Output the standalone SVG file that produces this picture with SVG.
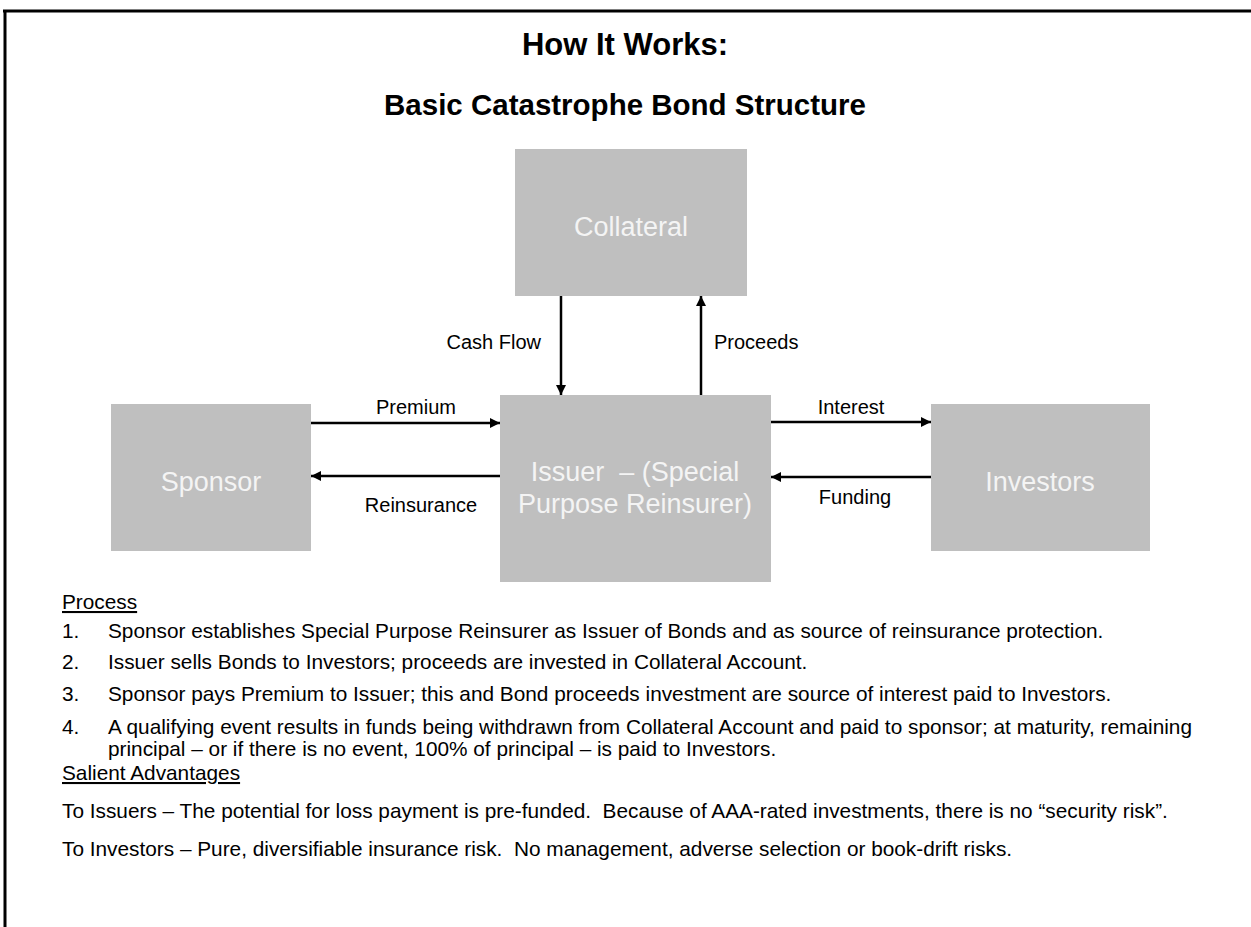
<svg xmlns="http://www.w3.org/2000/svg" width="1251" height="927" viewBox="0 0 1251 927">
<style>
.title{font-family:"Liberation Sans",Arial,sans-serif;font-weight:bold;fill:#000;text-anchor:middle}
.box{fill:#bfbfbf}
.btxt{font-family:"Liberation Sans",Arial,sans-serif;font-size:27px;fill:#f4f4f4;text-anchor:middle}
.lbl{font-family:"Liberation Sans",Arial,sans-serif;font-size:20px;fill:#000}
.body{font-family:"Liberation Sans",Arial,sans-serif;font-size:20.8px;fill:#000}
.conn{stroke:#000;stroke-width:2.5;fill:none;marker-end:url(#ah)}
</style>
<defs>
<marker id="ah" viewBox="0 0 10 10" refX="10" refY="5" markerWidth="4" markerHeight="4" orient="auto" markerUnits="strokeWidth">
<path d="M0,0 L10,5 L0,10 z" fill="#000"/>
</marker>
</defs>
<rect x="0" y="0" width="1251" height="927" fill="#fff"/>
<g id="frame">
<line x1="3" y1="11" x2="1251" y2="11" stroke="#000" stroke-width="3"/>
<line x1="5" y1="10" x2="5" y2="927" stroke="#000" stroke-width="3"/>
</g>
<g id="title">
<text class="title" x="625" y="55" font-size="31">How It Works:</text>
<text class="title" x="625" y="115" font-size="29.5">Basic Catastrophe Bond Structure</text>
</g>
<g id="collateral">
<rect class="box" x="515" y="149" width="232" height="147"/>
<text class="btxt" x="631" y="236">Collateral</text>
</g>
<g id="issuer">
<rect class="box" x="500" y="395" width="271" height="187"/>
<text class="btxt" x="635" y="481" xml:space="preserve">Issuer  – (Special</text>
<text class="btxt" x="635" y="513">Purpose Reinsurer)</text>
</g>
<g id="sponsor">
<rect class="box" x="111" y="404" width="200" height="147"/>
<text class="btxt" x="211" y="491">Sponsor</text>
</g>
<g id="investors">
<rect class="box" x="931" y="404" width="219" height="147"/>
<text class="btxt" x="1040" y="491">Investors</text>
</g>
<g id="connectors">
<line class="conn" x1="561" y1="296" x2="561" y2="395"/>
<line class="conn" x1="701" y1="395" x2="701" y2="296"/>
<line class="conn" x1="311" y1="423" x2="500" y2="423"/>
<line class="conn" x1="500" y1="476" x2="311" y2="476"/>
<line class="conn" x1="771" y1="422" x2="931" y2="422"/>
<line class="conn" x1="931" y1="477" x2="771" y2="477"/>
<text class="lbl" x="541" y="349" text-anchor="end">Cash Flow</text>
<text class="lbl" x="714" y="349">Proceeds</text>
<text class="lbl" x="416" y="414" text-anchor="middle">Premium</text>
<text class="lbl" x="421" y="512" text-anchor="middle">Reinsurance</text>
<text class="lbl" x="851" y="414" text-anchor="middle">Interest</text>
<text class="lbl" x="855" y="504" text-anchor="middle">Funding</text>
</g>
<g id="notes">
<text class="body" x="62" y="609" text-decoration="underline">Process</text>
<text class="body" x="62" y="638">1.</text>
<text class="body" x="108" y="638">Sponsor establishes Special Purpose Reinsurer as Issuer of Bonds and as source of reinsurance protection.</text>
<text class="body" x="62" y="669">2.</text>
<text class="body" x="108" y="669">Issuer sells Bonds to Investors; proceeds are invested in Collateral Account.</text>
<text class="body" x="62" y="701">3.</text>
<text class="body" x="108" y="701">Sponsor pays Premium to Issuer; this and Bond proceeds investment are source of interest paid to Investors.</text>
<text class="body" x="62" y="734">4.</text>
<text class="body" x="108" y="734">A qualifying event results in funds being withdrawn from Collateral Account and paid to sponsor; at maturity, remaining</text>
<text class="body" x="108" y="756">principal – or if there is no event, 100% of principal – is paid to Investors.</text>
<text class="body" x="62" y="780" text-decoration="underline">Salient Advantages</text>
<text class="body" x="62" y="818" xml:space="preserve">To Issuers – The potential for loss payment is pre-funded.  Because of AAA-rated investments, there is no “security risk”.</text>
<text class="body" x="62" y="856" xml:space="preserve">To Investors – Pure, diversifiable insurance risk.  No management, adverse selection or book-drift risks.</text>
</g>
</svg>
